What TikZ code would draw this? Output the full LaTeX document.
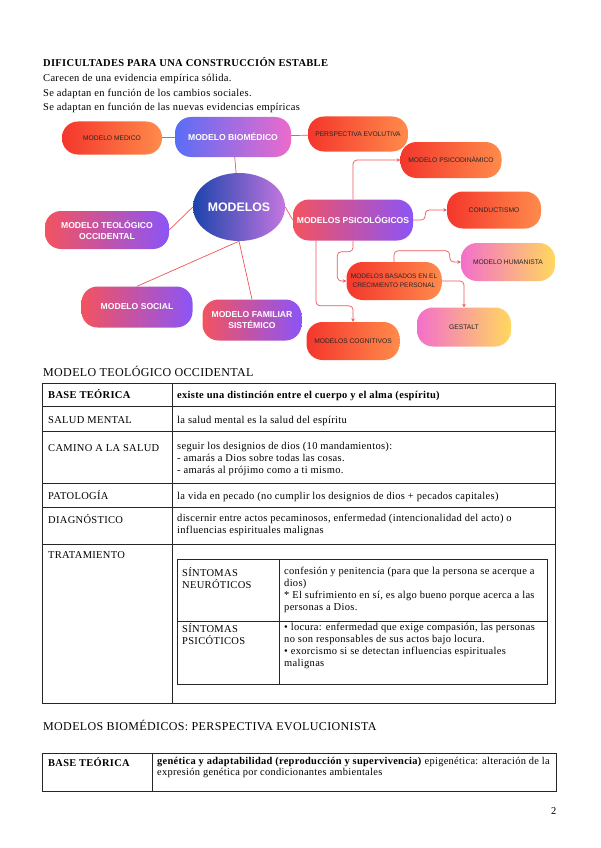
\documentclass[tikz,border=0pt]{standalone}
\usepackage{fontspec}
\setmainfont{Liberation Serif}[LetterSpace=3]
\newfontfamily\mapfont{Liberation Sans}
\usetikzlibrary{positioning, shapes.geometric, arrows.meta}
\definecolor{mred}{HTML}{F4362C}
\definecolor{morange}{HTML}{FF8B4B}
\definecolor{mblue}{HTML}{5A6DF6}
\definecolor{mpink}{HTML}{EC6BCC}
\definecolor{mrose}{HTML}{F3535F}
\definecolor{mviolet}{HTML}{8C54F6}
\definecolor{mnavy}{HTML}{1C44AC}
\definecolor{mlilac}{HTML}{C476E0}
\definecolor{mmagenta}{HTML}{F36FCB}
\definecolor{myellow}{HTML}{FFD85E}
\definecolor{mline}{HTML}{F25656}
\definecolor{tline}{HTML}{262626}
\newcommand{\tabtxt}{\fontsize{10.5}{12}\selectfont}
\newcommand{\smalltxt}{\fontsize{10.4}{11}\selectfont}

\begin{document}
\begin{tikzpicture}[x=1pt, y=-1pt,
    pill/.style 2 args={rounded corners=16pt, minimum width=#1, minimum height=#2, inner sep=1pt, align=center},
    warm/.style={left color=mred, right color=morange, text=black!85, font=\mapfont\fontsize{6.7}{9.5}\selectfont},
    cool/.style={left color=mrose, right color=mviolet, text=white, font=\mapfont\bfseries\fontsize{8.6}{11.3}\selectfont},
    sunny/.style={left color=mmagenta, right color=myellow, text=black!85, font=\mapfont\fontsize{6.7}{9.5}\selectfont},
    link/.style={draw=mline, line width=0.7pt},
    arr/.style={link, rounded corners=4pt, -{Stealth[length=3.5pt, width=3.5pt]}},
    tab/.style={draw=tline, line width=0.9pt},
    txt/.style={anchor=base west, inner sep=0pt, font=\tabtxt},
    head/.style={anchor=base west, inner sep=0pt, font=\fontsize{12}{14}\selectfont},
    cell/.style={anchor=north west, inner sep=0pt, align=left, font=\tabtxt, execute at begin node=\rule{0pt}{9pt}}
  ]
  \fill[white] (0,0) rectangle (600,848);
  \useasboundingbox (0,0) rectangle (600,848);

  \node[txt, font=\tabtxt\bfseries] (dificultades) at (43,67) {DIFICULTADES PARA UNA CONSTRUCCIÓN ESTABLE};
  \node[txt] (carecen) at (43,82) {Carecen de una evidencia empírica sólida.};
  \node[txt] (sociales) at (43,96.5) {Se adaptan en función de los cambios sociales.};
  \node[txt] (evidencias) at (43,111) {Se adaptan en función de las nuevas evidencias empíricas};

  \node[pill={100pt}{33pt}, warm] (medico) at (112,138) {MODELO MEDICO};
  \node[pill={116pt}{40pt}, left color=mblue, right color=mpink, text=white, font=\mapfont\bfseries\fontsize{8.6}{11}\selectfont] (biomedico) at (233,137) {MODELO BIOMÉDICO};
  \node[pill={100pt}{35pt}, warm] (evolutiva) at (358,134) {PERSPECTIVA EVOLUTIVA};
  \node[pill={101pt}{36pt}, warm] (psicodinamico) at (451,160) {MODELO PSICODINÁMICO};
  \node[ellipse, minimum width=92pt, minimum height=68pt, inner sep=0pt, left color=mnavy, right color=mlilac, text=white, font=\mapfont\bfseries\fontsize{12.3}{14}\selectfont] (modelos) at (239,207) {MODELOS};
  \node[pill={124pt}{38pt}, cool] (teologico) at (107,230) {MODELO TEOLÓGICO\\OCCIDENTAL};
  \node[pill={120pt}{41pt}, cool] (psicologicos) at (353,220) {MODELOS PSICOLÓGICOS};
  \node[pill={94pt}{37pt}, warm] (conductismo) at (494,210) {CONDUCTISMO};
  \node[pill={111pt}{41pt}, cool] (social) at (137,307) {MODELO SOCIAL};
  \node[pill={99pt}{41pt}, cool] (familiar) at (252,320) {MODELO FAMILIAR\\SISTÉMICO};
  \node[pill={95pt}{38pt}, warm, font=\mapfont\fontsize{6.5}{9.5}\selectfont] (basados) at (394,281) {MODELOS BASADOS EN EL\\CRECIMIENTO PERSONAL};
  \node[pill={94pt}{38pt}, sunny] (humanista) at (508,262) {MODELO HUMANISTA};
  \node[pill={94pt}{39pt}, sunny] (gestalt) at (464,327) {GESTALT};
  \node[pill={93pt}{38pt}, warm] (cognitivos) at (353,341) {MODELOS COGNITIVOS};

  \draw[link] (medico) -- (biomedico);
  \draw[link] (biomedico) -- (evolutiva);
  \draw[link] (biomedico) -- (modelos);
  \draw[link] (modelos.west) -- (teologico.east);
  \draw[link] (modelos.south) -- (social.north);
  \draw[link] (modelos.south) -- (familiar.north);
  \draw[link] (modelos.east) -- (psicologicos.west);
  \draw[arr] (psicologicos.north) |- (psicodinamico.west);
  \draw[arr] (psicologicos.east) -- ++(12,0) |- (conductismo.west);
  \draw[arr] (psicologicos.south) -- ++(0,11) -| ([xshift=-9pt]basados.west) -- (basados.west);
  \draw[arr] ([xshift=-37pt]psicologicos.south) |- ([yshift=16pt]cognitivos.north) -- (cognitivos.north);
  \draw[arr] (basados.north) -- ++(0,-11) -| ([xshift=-11pt]humanista.west) -- (humanista.west);
  \draw[arr] (basados.east) -| (gestalt.north);

  \node[head] (teohead) at (43,376) {MODELO TEOLÓGICO OCCIDENTAL};
  \draw[tab] (42,383) rectangle (555,703);
  \draw[tab] (172,383) -- (172,703);
  \draw[tab] (42,406) -- (555,406) (42,431) -- (555,431) (42,483) -- (555,483) (42,507) -- (555,507) (42,544) -- (555,544);
  \node[cell, font=\tabtxt\bfseries] (base) at (48,389) {BASE TEÓRICA};
  \node[cell, font=\tabtxt\bfseries] (basetxt) at (177,389) {existe una distinción entre el cuerpo y el alma (espíritu)};
  \node[cell] (salud) at (48,414) {SALUD MENTAL};
  \node[cell] (saludtxt) at (177,414) {la salud mental es la salud del espíritu};
  \node[cell] (camino) at (48,442) {CAMINO A LA SALUD};
  \node[cell] (caminotxt) at (177,442) {seguir los designios de dios (10 mandamientos):\\- amarás a Dios sobre todas las cosas.\\- amarás al prójimo como a ti mismo.};
  \node[cell] (patologia) at (48,490) {PATOLOGÍA};
  \node[cell] (patologiatxt) at (177,490) {la vida en pecado (no cumplir los designios de dios + pecados capitales)};
  \node[cell] (diagnostico) at (48,514) {DIAGNÓSTICO};
  \node[cell] (diagnosticotxt) at (177,514) {discernir entre actos pecaminosos, enfermedad (intencionalidad del acto) o\\influencias espirituales malignas};
  \node[cell] (tratamiento) at (48,549) {TRATAMIENTO};

  \draw[tab] (177,559) rectangle (547,684);
  \draw[tab] (279,559) -- (279,684);
  \draw[tab] (177,621) -- (547,621);
  \node[cell] (neuroticos) at (182,567) {SÍNTOMAS\\NEURÓTICOS};
  \node[cell] (neuroticostxt) at (284,567) {confesión y penitencia (para que la persona se acerque a\\dios)\\* El sufrimiento en sí, es algo bueno porque acerca a las\\personas a Dios.};
  \node[cell] (psicoticos) at (182,623) {SÍNTOMAS\\PSICÓTICOS};
  \node[cell] (psicoticostxt) at (284,623) {• locura: enfermedad que exige compasión, las personas\\no son responsables de sus actos bajo locura.\\• exorcismo si se detectan influencias espirituales\\malignas};

  \node[head] (biohead) at (43,730) {MODELOS BIOMÉDICOS: PERSPECTIVA EVOLUCIONISTA};
  \draw[tab] (42,753) rectangle (556,791);
  \draw[tab] (152,753) -- (152,791);
  \node[cell, font=\smalltxt\bfseries] (base2) at (48,757) {BASE TEÓRICA};
  \node[cell, font=\smalltxt] (base2txt) at (157,757) {\textbf{genética y adaptabilidad (reproducción y supervivencia)} epigenética: alteración de la\\expresión genética por condicionantes ambientales};

  \node[txt] (pagenum) at (551,814) {2};
\end{tikzpicture}
\end{document}
